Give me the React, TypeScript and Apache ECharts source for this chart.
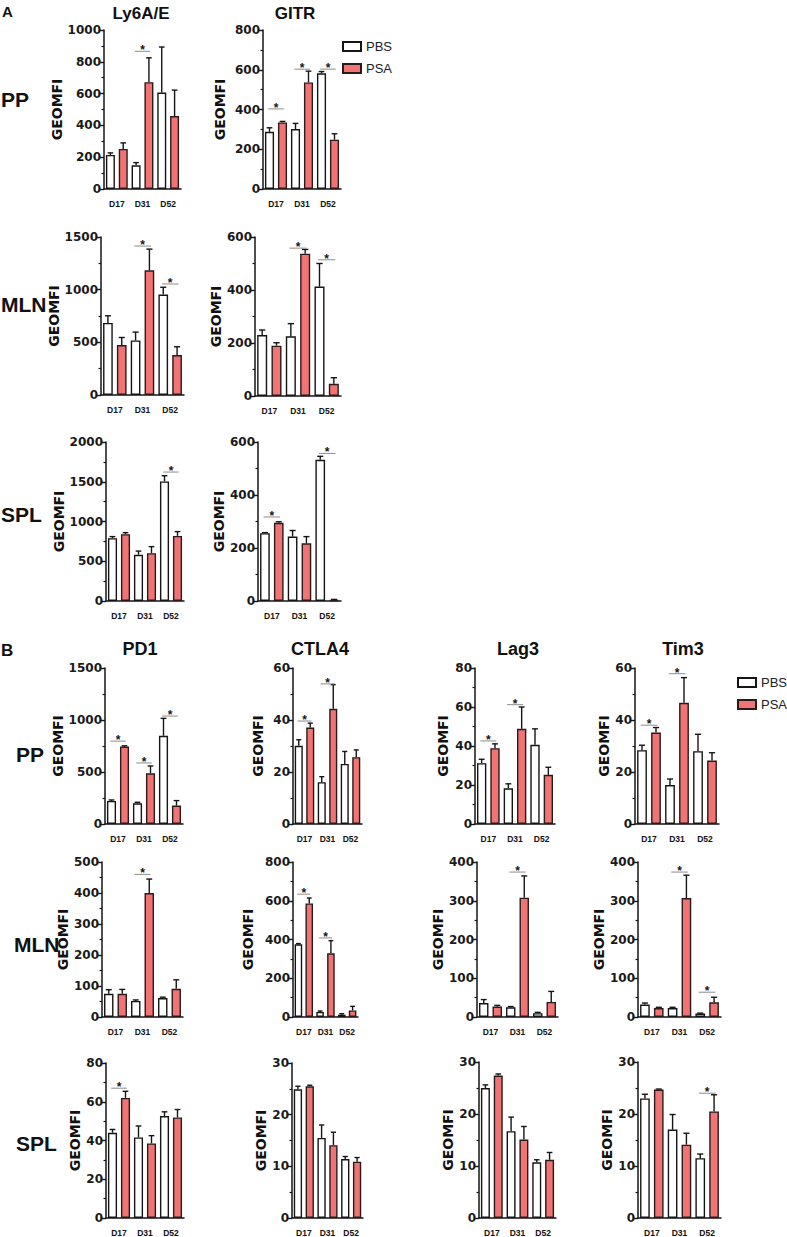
import { useEffect, useRef } from 'react';
import * as echarts from 'echarts';

const days = ['D17', 'D31', 'D52'];
const bars = ['D17 PBS', 'D17 PSA', 'D31 PBS', 'D31 PSA', 'D52 PBS', 'D52 PSA'];
const markers = ['Ly6A/E', 'GITR', 'PD1', 'CTLA4', 'Lag3', 'Tim3'];
const tissues = ['PP', 'MLN', 'SPL'];

// bar means in bar order (PBS, PSA per day), top of error bar, significance [dayIndex, y]
const ly6PP = [214, 252, 149, 672, 607, 459];
const ly6PPErr = [227, 290, 166, 825, 893, 622];
const ly6PPSig = [[1, 866]];
const gitrPP = [288, 335, 302, 536, 582, 248];
const gitrPPErr = [308, 340, 330, 593, 591, 278];
const gitrPPSig = [[0, 403], [1, 603], [2, 603]];

const ly6MLN = [684, 474, 518, 1184, 954, 379];
const ly6MLNErr = [752, 546, 597, 1385, 1023, 458];
const ly6MLNSig = [[1, 1414], [2, 1054]];
const gitrMLN = [230, 190, 225, 537, 413, 46];
const gitrMLNErr = [249, 201, 273, 553, 500, 69];
const gitrMLNSig = [[1, 558], [2, 514]];

const ly6SPL = [790, 840, 582, 601, 1504, 819];
const ly6SPLErr = [810, 860, 628, 684, 1576, 873];
const ly6SPLSig = [[2, 1622]];
const gitrSPL = [256, 295, 243, 218, 533, 4];
const gitrSPLErr = [258, 299, 266, 243, 546, 6];
const gitrSPLSig = [[0, 317], [2, 557]];

const pd1PP = [222, 745, 199, 488, 848, 177];
const pd1PPErr = [231, 752, 209, 558, 1016, 225];
const pd1PPSig = [[0, 797], [1, 587], [2, 1038]];
const ctla4PP = [30.1, 37.1, 16.1, 44.3, 23.1, 25.7];
const ctla4PPErr = [32.4, 38.8, 18.2, 53.6, 27.9, 28.5];
const ctla4PPSig = [[0, 39.6], [1, 53.9]];
const lag3PP = [31.2, 38.9, 18.3, 48.8, 40.6, 25.2];
const lag3PPErr = [33.2, 41.1, 20.6, 60, 48.8, 29.1];
const lag3PPSig = [[0, 42.6], [1, 61.2]];
const tim3PP = [28.4, 35.2, 15, 46.6, 28, 24.4];
const tim3PPErr = [30.3, 37.1, 17.3, 56.3, 34.5, 27.4];
const tim3PPSig = [[0, 38], [1, 57.8]];

const pd1MLN = [75, 75, 52, 400, 61, 91];
const pd1MLNErr = [88, 89, 55, 445, 64, 120];
const pd1MLNSig = [[1, 460]];
const ctla4MLN = [375, 586, 26, 329, 12, 34];
const ctla4MLNErr = [379, 614, 31, 394, 17, 55];
const ctla4MLNSig = [[0, 634], [1, 408]];
const lag3MLN = [36, 27, 25, 308, 10, 39];
const lag3MLNErr = [45, 30, 27, 364, 12, 66];
const lag3MLNSig = [[1, 374]];
const tim3MLN = [32, 23, 23, 307, 9, 38];
const tim3MLNErr = [36, 25, 25, 366, 10, 51];
const tim3MLNSig = [[1, 374], [2, 64]];

const pd1SPL = [44, 62, 41.6, 38.5, 52.6, 51.9];
const pd1SPLErr = [45.7, 65.4, 47.5, 42.5, 54.8, 56];
const pd1SPLSig = [[0, 67]];
const ctla4SPL = [24.9, 25.5, 15.5, 14.1, 11.4, 10.9];
const ctla4SPLErr = [25.5, 25.7, 18, 16.6, 11.9, 11.7];
const lag3SPL = [25, 27.4, 16.7, 15.1, 10.7, 11.2];
const lag3SPLErr = [25.6, 27.7, 19.4, 17.6, 11.2, 12.6];
const tim3SPL = [23, 24.7, 17, 14.1, 11.5, 20.5];
const tim3SPLErr = [23.8, 24.8, 19.9, 16.3, 12.3, 23.7];
const tim3SPLSig = [[2, 24]];

// y scale of each panel: max, interval; l/r/t/b = plot box on the page
const panels = [
  { mean: ly6PP, err: ly6PPErr, sig: ly6PPSig, max: 1000, step: 200, l: 104, r: 181, t: 30, b: 189, name: 42 },
  { mean: gitrPP, err: gitrPPErr, sig: gitrPPSig, max: 800, step: 200, l: 263, r: 341, t: 30, b: 189, name: 43 },
  { mean: ly6MLN, err: ly6MLNErr, sig: ly6MLNSig, max: 1500, step: 500, l: 101, r: 184, t: 237, b: 395, name: 44 },
  { mean: gitrMLN, err: gitrMLNErr, sig: gitrMLNSig, max: 600, step: 200, l: 255, r: 341, t: 237, b: 396, name: 35 },
  { mean: ly6SPL, err: ly6SPLErr, sig: ly6SPLSig, max: 2000, step: 500, l: 106, r: 184, t: 442, b: 601, name: 44 },
  { mean: gitrSPL, err: gitrSPLErr, sig: gitrSPLSig, max: 600, step: 200, l: 258, r: 341, t: 442, b: 601, name: 38 },
  { mean: pd1PP, err: pd1PPErr, sig: pd1PPSig, max: 1500, step: 500, l: 105, r: 183, t: 668, b: 824, name: 37 },
  { mean: ctla4PP, err: ctla4PPErr, sig: ctla4PPSig, max: 60, step: 20, l: 293, r: 362, t: 668, b: 824, name: 35 },
  { mean: lag3PP, err: lag3PPErr, sig: lag3PPSig, max: 80, step: 20, l: 475, r: 555, t: 668, b: 824, name: 32 },
  { mean: tim3PP, err: tim3PPErr, sig: tim3PPSig, max: 60, step: 20, l: 635, r: 719, t: 668, b: 824, name: 30 },
  { mean: pd1MLN, err: pd1MLNErr, sig: pd1MLNSig, max: 500, step: 100, l: 102, r: 183, t: 862, b: 1017, name: 34 },
  { mean: ctla4MLN, err: ctla4MLNErr, sig: ctla4MLNSig, max: 800, step: 200, l: 293, r: 358, t: 862, b: 1017, name: 45 },
  { mean: lag3MLN, err: lag3MLNErr, sig: lag3MLNSig, max: 400, step: 100, l: 477, r: 558, t: 862, b: 1017, name: 37 },
  { mean: tim3MLN, err: tim3MLNErr, sig: tim3MLNSig, max: 400, step: 100, l: 638, r: 721, t: 862, b: 1017, name: 33 },
  { mean: pd1SPL, err: pd1SPLErr, sig: pd1SPLSig, max: 80, step: 20, l: 106, r: 184, t: 1063, b: 1218, name: 31 },
  { mean: ctla4SPL, err: ctla4SPLErr, sig: [], max: 30, step: 10, l: 292, r: 363, t: 1063, b: 1218, name: 29 },
  { mean: lag3SPL, err: lag3SPLErr, sig: [], max: 30, step: 10, l: 479, r: 556, t: 1062, b: 1218, name: 29 },
  { mean: tim3SPL, err: tim3SPLErr, sig: tim3SPLSig, max: 30, step: 10, l: 638, r: 721, t: 1062, b: 1218, name: 30 },
];

const INK = '#151515';
const RED = '#f07474';

const errRender = (_p: any, api: any) => {
  const i = api.value(0);
  const base = api.coord([i, api.value(1)]);
  const top = api.coord([i, api.value(2)]);
  const half = api.size([1, 0])[0] * 0.22;
  const style = { stroke: INK, lineWidth: 1.4 };
  return {
    type: 'group',
    children: [
      { type: 'line', shape: { x1: base[0], y1: base[1], x2: base[0], y2: top[1] }, style },
      { type: 'line', shape: { x1: base[0] - half, y1: top[1], x2: base[0] + half, y2: top[1] }, style },
    ],
  };
};

const sigRender = (_p: any, api: any) => {
  const d = api.value(0);
  const y = api.value(1);
  const a = api.coord([d * 2, y]);
  const b = api.coord([d * 2 + 1, y]);
  const pad = api.size([1, 0])[0] * 0.1;
  return {
    type: 'group',
    children: [
      { type: 'line', shape: { x1: a[0] - pad, y1: a[1], x2: b[0] + pad, y2: a[1] }, style: { stroke: '#8c8c8c', lineWidth: 1 } },
      {
        type: 'text',
        style: {
          text: '*', x: (a[0] + b[0]) / 2, y: a[1] + 5, textAlign: 'center', textVerticalAlign: 'bottom',
          fontSize: 12, fontWeight: 'bold', fontFamily: 'Liberation Sans', fill: INK,
        },
      },
    ],
  };
};

const label = (text: string, x: number, y: number, size: number, align = 'left') => ({
  type: 'text',
  x,
  y,
  style: {
    text, fontSize: size, fontWeight: 'bold', fontFamily: 'Liberation Sans', fill: '#111',
    textAlign: align, textVerticalAlign: 'middle',
  },
});

const App = () => {
  const chartRef = useRef<HTMLDivElement>(null);

  useEffect(() => {
    if (!chartRef.current) return;
    document.body.style.margin = '0';
    const chart = echarts.init(chartRef.current, undefined, { renderer: 'svg' });

    const grid: any[] = [];
    const xAxis: any[] = [];
    const yAxis: any[] = [];
    const series: any[] = [];

    panels.forEach((p, g) => {
      grid.push({ left: p.l, top: p.t, width: p.r - p.l, height: p.b - p.t });
      xAxis.push({
        type: 'category', gridIndex: g, data: bars, position: 'bottom',
        axisLine: { lineStyle: { color: INK, width: 1.5 } },
        axisTick: { alignWithLabel: true, length: 4, lineStyle: { color: INK, width: 1.4 } },
        axisLabel: { show: false },
      });
      xAxis.push({
        type: 'category', gridIndex: g, data: days, position: 'bottom',
        axisLine: { show: false }, axisTick: { show: false },
        axisLabel: { fontSize: 8.5, fontWeight: 'bold', fontFamily: 'Liberation Sans', color: '#111', margin: 10 },
      });
      yAxis.push({
        type: 'value', gridIndex: g, min: 0, max: p.max, interval: p.step,
        name: 'GEOMFI', nameLocation: 'middle', nameGap: p.name - 7,
        nameTextStyle: { fontSize: 14, fontWeight: 'bold', fontFamily: 'DejaVu Sans', color: '#111' },
        axisLine: { show: true, lineStyle: { color: INK, width: 1.5 } },
        axisTick: { show: true, length: 4, lineStyle: { color: INK, width: 1.4 } },
        minorTick: { show: true, splitNumber: 2, length: 2.5, lineStyle: { color: INK, width: 1.2 } },
        splitLine: { show: false },
        axisLabel: {
          fontSize: 12, fontWeight: 'bold', fontFamily: 'DejaVu Sans', color: '#1a1a1a', margin: 3,
          formatter: (v: number) => String(v),
        },
      });
      const xi = g * 2;
      series.push({
        name: 'PBS', type: 'bar', xAxisIndex: xi, yAxisIndex: g, barWidth: '70%', barGap: '-100%',
        data: p.mean.map((v, i) => (i % 2 === 0 ? v : '-')),
        itemStyle: { color: '#ffffff', borderColor: INK, borderWidth: 1.4 },
      });
      series.push({
        name: 'PSA', type: 'bar', xAxisIndex: xi, yAxisIndex: g, barWidth: '70%', barGap: '-100%',
        data: p.mean.map((v, i) => (i % 2 === 1 ? v : '-')),
        itemStyle: { color: RED, borderColor: '#2a1a1a', borderWidth: 1.4 },
      });
      series.push({
        type: 'custom', xAxisIndex: xi, yAxisIndex: g, renderItem: errRender,
        encode: { x: 0, y: [1, 2] },
        data: p.mean.map((v, i) => [i, v, p.err[i]]),
      });
      if (p.sig.length) {
        series.push({
          type: 'custom', xAxisIndex: xi, yAxisIndex: g, renderItem: sigRender,
          encode: { x: 0, y: 1 }, data: p.sig,
        });
      }
    });

    const legendBase = {
      data: ['PBS', 'PSA'], orient: 'vertical', icon: 'rect', itemWidth: 18, itemHeight: 9, itemGap: 9,
      textStyle: { fontSize: 13, fontFamily: 'Liberation Sans', color: '#222' },
      selectedMode: false,
    };

    chart.setOption({
      animation: false,
      backgroundColor: '#ffffff',
      grid,
      xAxis,
      yAxis,
      series,
      legend: [
        { ...legendBase, left: 337, top: 35 },
        { ...legendBase, left: 732, top: 671 },
      ],
      graphic: [
        label('A', 2, 11, 15),
        label('B', 1, 650, 17),
        label(markers[0], 141, 13, 17, 'center'),
        label(markers[1], 295, 13, 17, 'center'),
        label(markers[2], 140, 649, 18, 'center'),
        label(markers[3], 320, 649, 18, 'center'),
        label(markers[4], 518, 649, 18, 'center'),
        label(markers[5], 683, 649, 18, 'center'),
        label(tissues[0], 1, 99, 21),
        label(tissues[1], 1, 304, 21),
        label(tissues[2], 1, 514, 21),
        label(tissues[0], 16, 754, 21),
        label(tissues[1], 14, 944, 21),
        label(tissues[2], 16, 1143, 21),
      ],
    });

    return () => {
      chart.dispose();
    };
  }, []);

  return <div ref={chartRef} style={{ width: 787, height: 1237 }} />;
};

export default App;
